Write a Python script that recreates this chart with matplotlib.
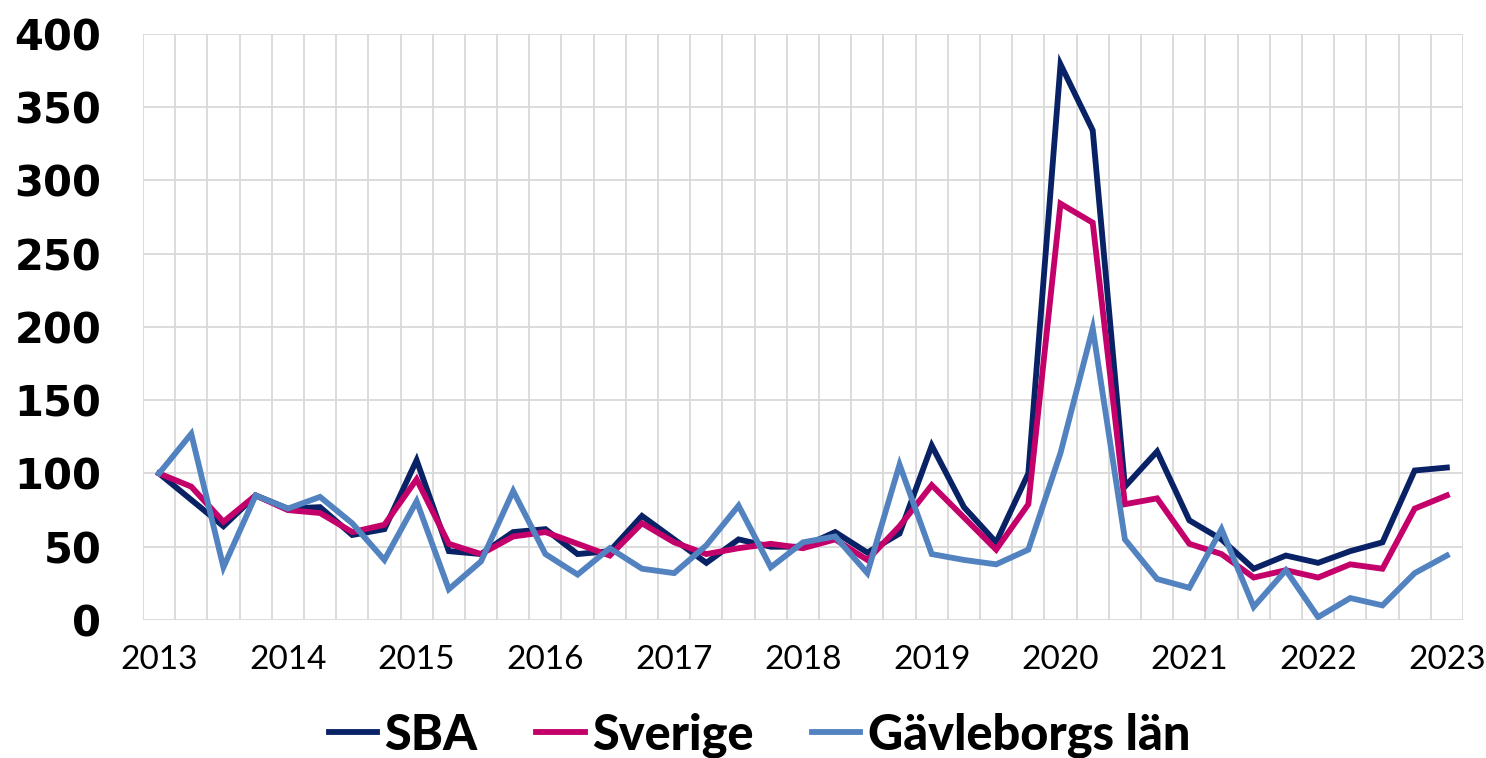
import matplotlib.pyplot as plt
import numpy as np

# quarterly index, 2013 Q1 .. 2023 Q1
years = [str(y) for y in range(2013, 2024)]

sba = [100, 82, 64, 85, 76, 77, 58, 62, 109, 47, 45, 60, 62, 45, 47, 71, 55, 39, 55, 50,
       50, 60, 46, 59, 119, 77, 53, 100, 379, 334, 91, 115, 68, 55, 35, 44, 39, 47, 53, 102, 104]
sverige = [100, 91, 67, 85, 75, 73, 60, 65, 96, 52, 45, 57, 60, 52, 44, 66, 53, 45, 49, 52,
           49, 55, 41, 64, 92, 70, 48, 79, 284, 271, 79, 83, 52, 45, 29, 34, 29, 38, 35, 76, 85]
gavleborg = [100, 127, 36, 85, 76, 84, 66, 41, 81, 21, 40, 88, 45, 31, 49, 35, 32, 51, 78, 36,
             53, 57, 32, 106, 45, 41, 38, 48, 114, 199, 55, 28, 22, 62, 9, 34, 2, 15, 10, 32, 44]

names = ['SBA', 'Sverige', 'Gävleborgs län']
colors = ['#082265', '#C4006A', '#5283C0']

fig = plt.figure(figsize=(14.86, 7.58), dpi=100)
ax = fig.add_axes([0.0962, 0.182, 0.8883, 0.7737])

x = np.arange(len(sba))
for vals, name, c in zip([sba, sverige, gavleborg], names, colors):
    ax.plot(x, vals, color=c, lw=4.2, label=name, solid_joinstyle='miter')

ax.set_xlim(-0.5, len(sba) - 0.5)
ax.set_ylim(0, 400)
ax.set_yticks(np.arange(0, 401, 50))
ax.set_xticks(np.arange(0, len(sba), 4))
ax.set_xticklabels(years)
ax.set_xticks(np.arange(-0.5, len(sba), 1), minor=True)

ax.grid(True, axis='y', color='#D9D9D9', lw=1.3)
ax.grid(True, axis='x', which='minor', color='#D9D9D9', lw=1.3)
ax.grid(False, axis='x', which='major')
ax.set_axisbelow(True)
for s in ax.spines.values():
    s.set_visible(False)

ax.tick_params(axis='both', which='both', length=0)
ax.tick_params(axis='y', pad=30)
ax.tick_params(axis='x', pad=18)
for t in ax.get_yticklabels():
    t.set_fontfamily('DejaVu Sans')
    t.set_fontweight('bold')
    t.set_fontsize(30)
for t in ax.get_xticklabels():
    t.set_fontfamily('Lato')
    t.set_fontsize(24)

fig.legend(loc='center', bbox_to_anchor=(0.511, 0.03), ncol=3, frameon=False,
           handlelength=1.0, handletextpad=0.15, columnspacing=1.2,
           prop={'family': 'Lato', 'weight': 'black', 'size': 35})

plt.savefig('out.png', dpi=100)
